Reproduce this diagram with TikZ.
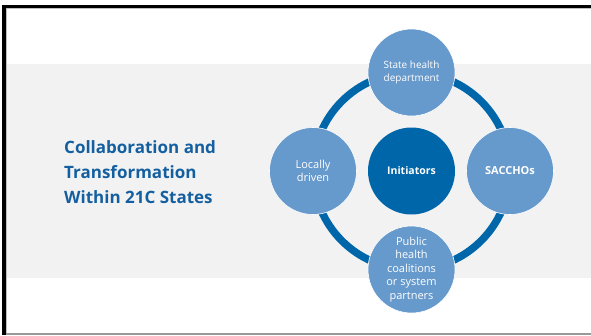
\documentclass[tikz,border=0pt]{standalone}
\usepackage{fontspec}
\setmainfont{Open Sans}

\definecolor{darkblue}{HTML}{0066AA}
\definecolor{lightblue}{HTML}{6699CC}
\definecolor{titleblue}{HTML}{145FA0}
\definecolor{bandgray}{HTML}{F2F2F2}

\pgfdeclarelayer{back}
\pgfdeclarelayer{ring}
\pgfsetlayers{back,ring,main}

\begin{document}
\begin{tikzpicture}[
		x=1pt, y=-1pt,
		every node/.style={circle, minimum size=87pt, inner sep=0pt, align=center, text=white},
		partner/.style={fill=lightblue, draw=white, line width=0.6pt, font=\fontsize{11}{13.6}\selectfont},
		hub/.style={fill=darkblue, font=\fontsize{10.5}{13}\selectfont\bfseries},
		ringline/.style={draw=darkblue, line width=7.5pt}
	]
  \useasboundingbox (0,0) rectangle (591,335);
  % grey band behind the diagram
  \begin{pgfonlayer}{back}
    \fill[bandgray] (7,64) rectangle (591,278);
  \end{pgfonlayer}
  \node (title) [rectangle, minimum size=0pt, anchor=west, align=left, text=titleblue,
    font=\fontsize{17}{25}\selectfont\bfseries] at (64,172)
    {Collaboration and\\Transformation\\Within 21C States};
  \node (init) [hub] at (411.5,171) {Initiators};
  \node (state) [partner, font=\fontsize{10}{12.3}\selectfont] at (411.5,72.5) {State health\\department};
  \node (sacchos) [partner, font=\fontsize{11}{13}\selectfont\bfseries] at (510,171) {SACCHOs};
  \node (public) [partner] at (411.5,269.5) {Public\\health\\coalitions\\or system\\partners};
  \node (local) [partner] at (313,171) {Locally\\driven};
  \begin{pgfonlayer}{ring}
    \draw[ringline] (state.center) to [bend left=45] (sacchos.center)
      to [bend left=45] (public.center)
      to [bend left=45] (local.center)
      to [bend left=45] (state.center);
  \end{pgfonlayer}
  % frame
  \fill[black] (2,5) rectangle (591,8);
  \fill[black] (2,5) rectangle (6,335);
  \fill[black!25] (6,8) rectangle (591,9);
  \fill[black!25] (6,8) rectangle (7,333);
  \fill[black!40] (6,332.8) rectangle (591,335);
\end{tikzpicture}
\end{document}
